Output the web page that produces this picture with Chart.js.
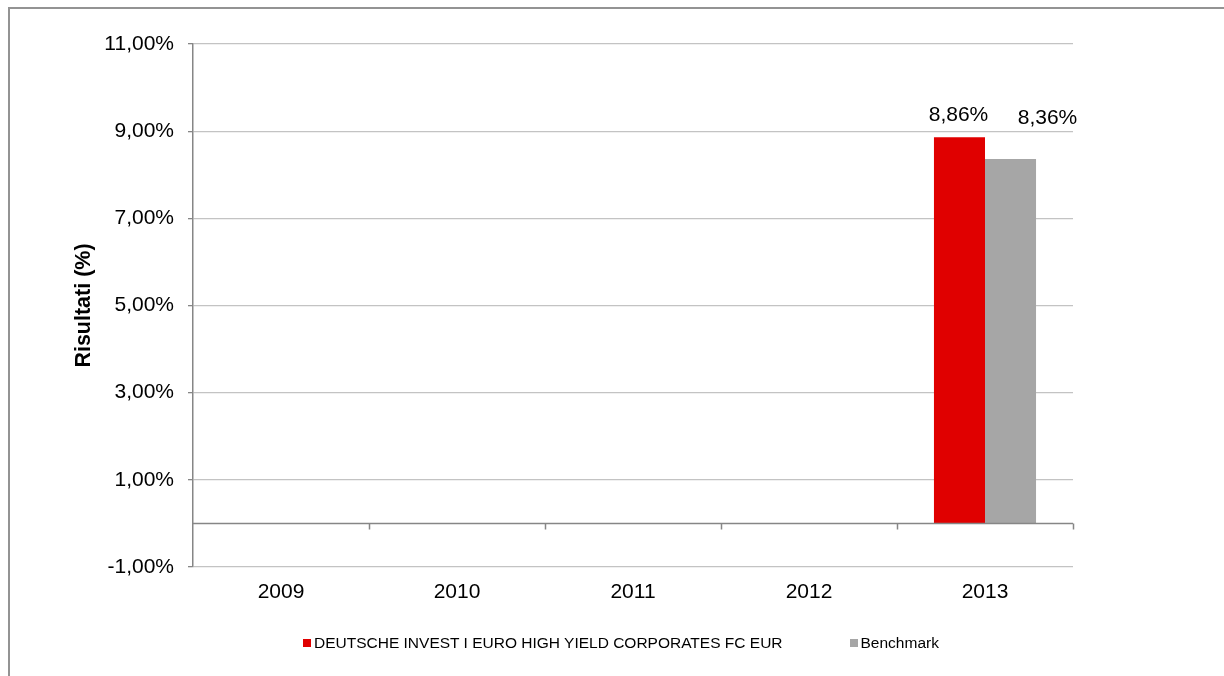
<!DOCTYPE html>
<html>
<head>
<meta charset="utf-8">
<script src="https://cdn.jsdelivr.net/npm/chart.js@4.4.1/dist/chart.umd.min.js"></script>
<style>
  html, body { margin: 0; padding: 0; background: #fff; }
  #wrap { position: relative; width: 1224px; height: 676px; overflow: hidden; }
  #frame {
    position: absolute; left: 8px; top: 7px; width: 1400px; height: 800px;
    border-top: 2px solid #939393; border-left: 2px solid #939393;
  }
  #chart { position: absolute; left: 0; top: 0; }
  #legend {
    position: absolute; top: 633px; left: 303px; display: flex; gap: 67px;
    font: 15.5px "Liberation Sans", Arial, sans-serif; color: #000; line-height: 20px;
  }
  #legend .item { display: flex; align-items: center; white-space: nowrap; }
  #legend .box { width: 8px; height: 8px; margin-right: 3px; }
</style>
</head>
<body>
<div id="wrap">
  <div id="frame"></div>
  <canvas id="chart" width="1224" height="676"></canvas>
  <div id="legend"></div>
</div>
<script>
const years = ["2009", "2010", "2011", "2012", "2013"];
const fundValues = [null, null, null, null, 8.86];
const benchmarkValues = [null, null, null, null, 8.36];
const yTicks = [-1, 1, 3, 5, 7, 9, 11];
const seriesNames = ["DEUTSCHE INVEST I EURO HIGH YIELD CORPORATES FC EUR", "Benchmark"];
const seriesColors = ["#e00000", "#a6a6a6"];

const FONT = '"Liberation Sans", Arial, sans-serif';

function formatPct(v) {
  return v.toFixed(2).replace(".", ",") + "%";
}

// zero line with the small category ticks hanging under it
const zeroLinePlugin = {
  id: "zeroLine",
  afterDatasetsDraw(chart) {
    const { ctx, chartArea, scales: { x, y } } = chart;
    const y0 = Math.round(y.getPixelForValue(0)) + 0.5;
    ctx.save();
    ctx.strokeStyle = "#868686";
    ctx.lineWidth = 1.5;
    ctx.beginPath();
    ctx.moveTo(chartArea.left, y0);
    ctx.lineTo(chartArea.right, y0);
    for (let i = 0; i < years.length; i++) {
      const bx = Math.round(x.getPixelForValue(i + 0.5)) + 0.5;
      ctx.moveTo(bx, y0);
      ctx.lineTo(bx, y0 + 6);
    }
    ctx.stroke();
    ctx.restore();
  }
};

const valueLabelPlugin = {
  id: "valueLabels",
  afterDatasetsDraw(chart) {
    const { ctx } = chart;
    ctx.save();
    ctx.font = "21px " + FONT;
    ctx.fillStyle = "#000";
    ctx.textAlign = "center";
    ctx.textBaseline = "middle";
    chart.data.datasets.forEach((ds, di) => {
      const meta = chart.getDatasetMeta(di);
      const shift = ds.labelShift || [0, 20];
      meta.data.forEach((bar, i) => {
        const v = ds.data[i];
        if (v == null) return;
        ctx.fillText(formatPct(v), bar.x + shift[0], bar.y - shift[1]);
      });
    });
    ctx.restore();
  }
};

const ctx = document.getElementById("chart").getContext("2d");
const chart = new Chart(ctx, {
  type: "bar",
  data: {
    labels: years,
    datasets: [
      {
        label: seriesNames[0],
        data: fundValues,
        backgroundColor: seriesColors[0],
        borderWidth: 0,
        labelShift: [-1, 22]
      },
      {
        label: seriesNames[1],
        data: benchmarkValues,
        backgroundColor: seriesColors[1],
        borderWidth: 0,
        labelShift: [37, 41]
      }
    ]
  },
  options: {
    responsive: false,
    animation: false,
    devicePixelRatio: 1,
    categoryPercentage: 0.58,
    barPercentage: 1,
    layout: { padding: { top: 44, right: 151, bottom: 0, left: 0 } },
    plugins: {
      legend: { display: false },
      tooltip: { enabled: false }
    },
    scales: {
      x: {
        grid: { display: false, drawTicks: false },
        border: { display: false },
        ticks: { color: "#000", font: { family: FONT, size: 21 }, padding: 13 },
        afterFit: (scale) => { scale.height = 109; }
      },
      y: {
        min: yTicks[0],
        max: yTicks[yTicks.length - 1],
        afterBuildTicks: (scale) => { scale.ticks = yTicks.map((v) => ({ value: v })); },
        grid: { color: "#c3c3c3", lineWidth: 1.3, tickColor: "#868686", tickLength: 5, drawTicks: true },
        border: { color: "#868686", width: 1.5 },
        ticks: {
          color: "#000",
          font: { family: FONT, size: 21 },
          padding: 14,
          callback: (v) => formatPct(v)
        },
        title: {
          display: true,
          text: "Risultati (%)",
          color: "#000",
          font: { family: FONT, size: 21.5, weight: "bold" },
          padding: { top: 71, bottom: 0 }
        },
        afterFit: (scale) => { scale.width = 193; }
      }
    }
  },
  plugins: [zeroLinePlugin, valueLabelPlugin]
});

// legend built from the same series arrays
const legendEl = document.getElementById("legend");
seriesNames.forEach((name, i) => {
  const item = document.createElement("div");
  item.className = "item";
  const box = document.createElement("span");
  box.className = "box";
  box.style.background = seriesColors[i];
  const text = document.createElement("span");
  text.textContent = name;
  item.appendChild(box);
  item.appendChild(text);
  legendEl.appendChild(item);
});
</script>
</body>
</html>
